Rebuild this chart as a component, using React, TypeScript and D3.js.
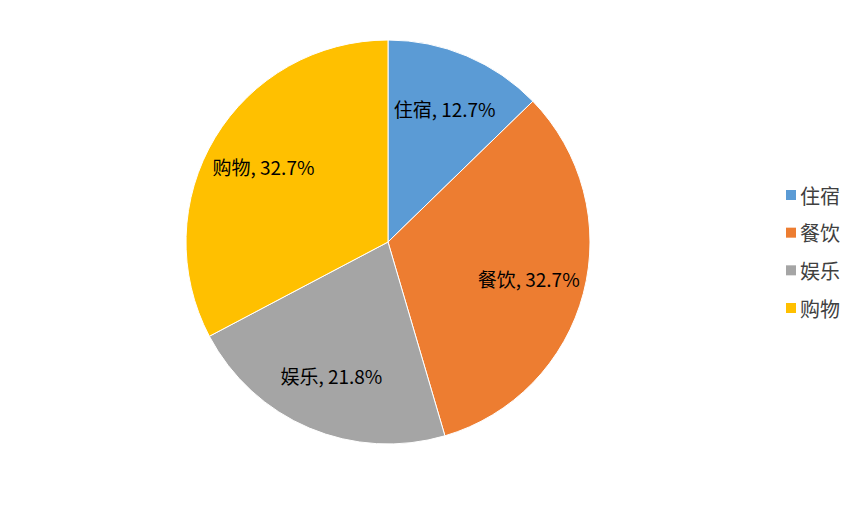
import * as d3 from "d3"
import { useRef, useEffect } from "react"

const categories = ["住宿", "餐饮", "娱乐", "购物"]
const values = [7, 18, 12, 18]
const colors = ["#5B9BD5", "#ED7D31", "#A5A5A5", "#FFC000"]

const width = 865
const height = 505
const font = "'Noto Sans CJK SC', 'Noto Sans', sans-serif"

export default function App() {
  const svgRef = useRef<SVGSVGElement>(null)

  useEffect(() => {
    if (!svgRef.current) return
    const svg = d3.select(svgRef.current)
    svg.selectAll("*").remove()

    const cx = 388
    const cy = 242
    const radius = 202
    const total = d3.sum(values)

    const pie = d3.pie<number>().sort(null).value((d) => d)
    const arcs = pie(values)
    const arc = d3.arc<d3.PieArcDatum<number>>().innerRadius(0).outerRadius(radius)
    const labelArc = d3
      .arc<d3.PieArcDatum<number>>()
      .innerRadius(radius * 0.72)
      .outerRadius(radius * 0.72)

    const g = svg.append("g").attr("transform", `translate(${cx},${cy})`)

    g.selectAll("path")
      .data(arcs)
      .enter()
      .append("path")
      .attr("d", arc)
      .attr("fill", (_, i) => colors[i])
      .attr("stroke", "#FFFFFF")
      .attr("stroke-width", 1)

    g.selectAll("text")
      .data(arcs)
      .enter()
      .append("text")
      .attr("transform", (d) => `translate(${labelArc.centroid(d)})`)
      .attr("text-anchor", "middle")
      .attr("dominant-baseline", "central")
      .style("font-family", font)
      .style("font-size", "19px")
      .style("fill", "#000000")
      .text((d, i) => `${categories[i]}, ${d3.format(".1%")(d.value / total)}`)

    const legendY = d3
      .scalePoint<string>()
      .domain(categories)
      .range([195, 308])

    const legend = svg
      .append("g")
      .selectAll("g")
      .data(categories)
      .enter()
      .append("g")
      .attr("transform", (d) => `translate(786,${legendY(d)})`)

    legend
      .append("rect")
      .attr("x", 0)
      .attr("y", -5)
      .attr("width", 10)
      .attr("height", 10)
      .attr("fill", (_, i) => colors[i])

    legend
      .append("text")
      .attr("x", 14)
      .attr("y", 0)
      .attr("dominant-baseline", "central")
      .style("font-family", font)
      .style("font-size", "20px")
      .style("fill", "#404040")
      .text((d) => d)
  }, [])

  return (
    <div style={{ width, height }}>
      <svg ref={svgRef} width={width} height={height} style={{ display: "block", margin: "-8px" }}></svg>
    </div>
  )
}
